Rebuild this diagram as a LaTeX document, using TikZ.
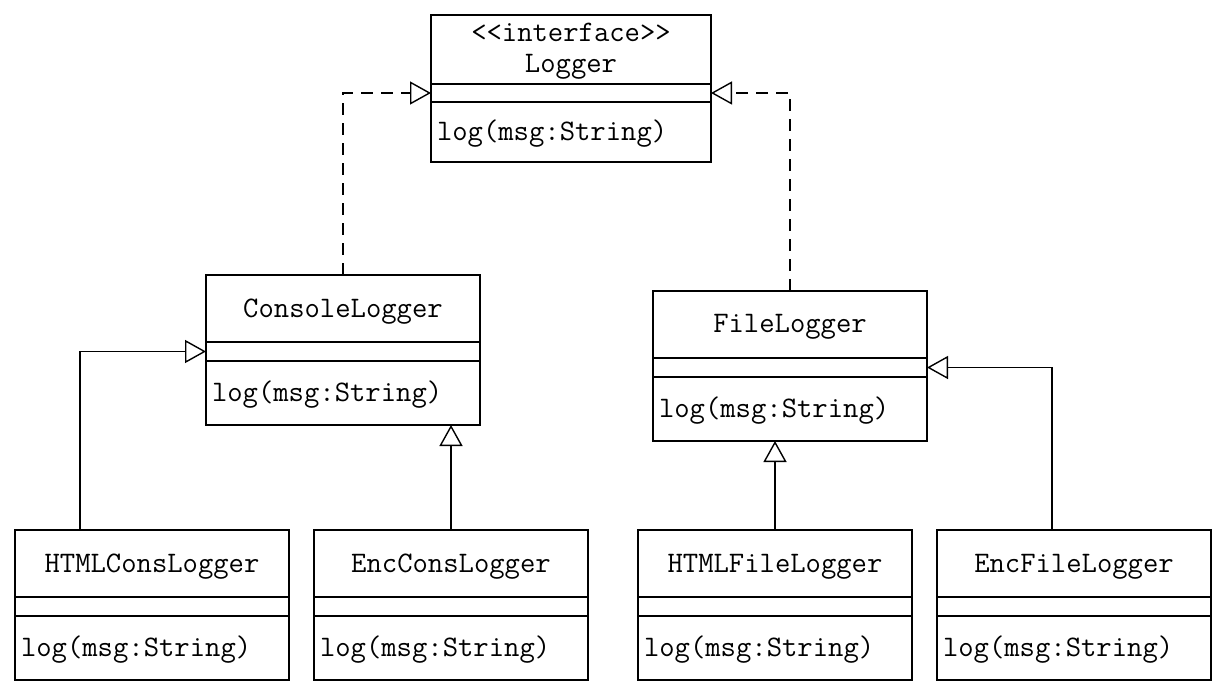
\documentclass[tikz,border=0pt]{standalone}
\usepackage{fontspec}
\usepackage{tikz}
\usetikzlibrary{arrows.meta,positioning}

\tikzset{
    umlpart/.style={draw, line width=1pt, outer sep=0pt, inner sep=0pt,
        font={\ttfamily\fontsize{14.9}{15.5}\selectfont}},
    umlhead/.style={umlpart, minimum width=137pt, minimum height=33.5pt, align=center,
        text height=8.5pt, text depth=0pt},
    umlattr/.style={umlpart, minimum width=137pt, minimum height=9.5pt},
    umlmeth/.style={umlpart, text width=131pt, inner xsep=3pt, minimum height=32pt, align=left,
        text height=8.5pt, text depth=0pt},
    extend/.style={line width=0.7pt, -{Triangle[open, length=10.5pt, width=11.5pt, fill=white]}},
    realize/.style={extend, dash pattern=on 6pt off 4pt}
}

\begin{document}
\begin{tikzpicture}[x=0.5pt, y=-0.5pt]
    \useasboundingbox (0,0) rectangle (1226,695);

    % interface
    \node[umlhead, minimum width=140pt, minimum height=34.5pt, text height=23.5pt, anchor=north] (lg-t) at (571,15) {<<interface>>\\Logger};
    \node[umlattr, minimum width=140pt, minimum height=9pt, below=0pt of lg-t] (lg-a) {};
    \node[umlmeth, text width=134pt, minimum height=30pt, below=0pt of lg-a] (lg-m) {log(msg:String)};

    % first level
    \node[umlhead, anchor=north] (cl-t) at (343,275) {ConsoleLogger};
    \node[umlattr, below=0pt of cl-t] (cl-a) {};
    \node[umlmeth, below=0pt of cl-a] (cl-m) {log(msg:String)};

    \node[umlhead, anchor=north] (fl-t) at (790,291) {FileLogger};
    \node[umlattr, below=0pt of fl-t] (fl-a) {};
    \node[umlmeth, below=0pt of fl-a] (fl-m) {log(msg:String)};

    % second level
    \node[umlhead, anchor=north] (hc-t) at (152,530) {HTMLConsLogger};
    \node[umlattr, below=0pt of hc-t] (hc-a) {};
    \node[umlmeth, below=0pt of hc-a] (hc-m) {log(msg:String)};

    \node[umlhead, anchor=north] (ec-t) at (451,530) {EncConsLogger};
    \node[umlattr, below=0pt of ec-t] (ec-a) {};
    \node[umlmeth, below=0pt of ec-a] (ec-m) {log(msg:String)};

    \node[umlhead, anchor=north] (hf-t) at (775,530) {HTMLFileLogger};
    \node[umlattr, below=0pt of hf-t] (hf-a) {};
    \node[umlmeth, below=0pt of hf-a] (hf-m) {log(msg:String)};

    \node[umlhead, anchor=north] (ef-t) at (1074,530) {EncFileLogger};
    \node[umlattr, below=0pt of ef-t] (ef-a) {};
    \node[umlmeth, below=0pt of ef-a] (ef-m) {log(msg:String)};

    % realizations
    \draw[realize] (cl-t.north) |- (lg-a.west);
    \draw[realize] (fl-t.north) |- (lg-a.east);

    % generalizations
    \coordinate[xshift=32.5pt] (hc-up) at (hc-t.north west);
    \draw[extend] (hc-up) |- (cl-a.west);
    \draw[extend] (ec-t.north) -- (ec-t.north |- cl-m.south);
    \draw[extend] (hf-t.north) -- (hf-t.north |- fl-m.south);
    \coordinate[xshift=57.5pt] (ef-up) at (ef-t.north west);
    \draw[extend] (ef-up) |- (fl-a.east);
\end{tikzpicture}
\end{document}
